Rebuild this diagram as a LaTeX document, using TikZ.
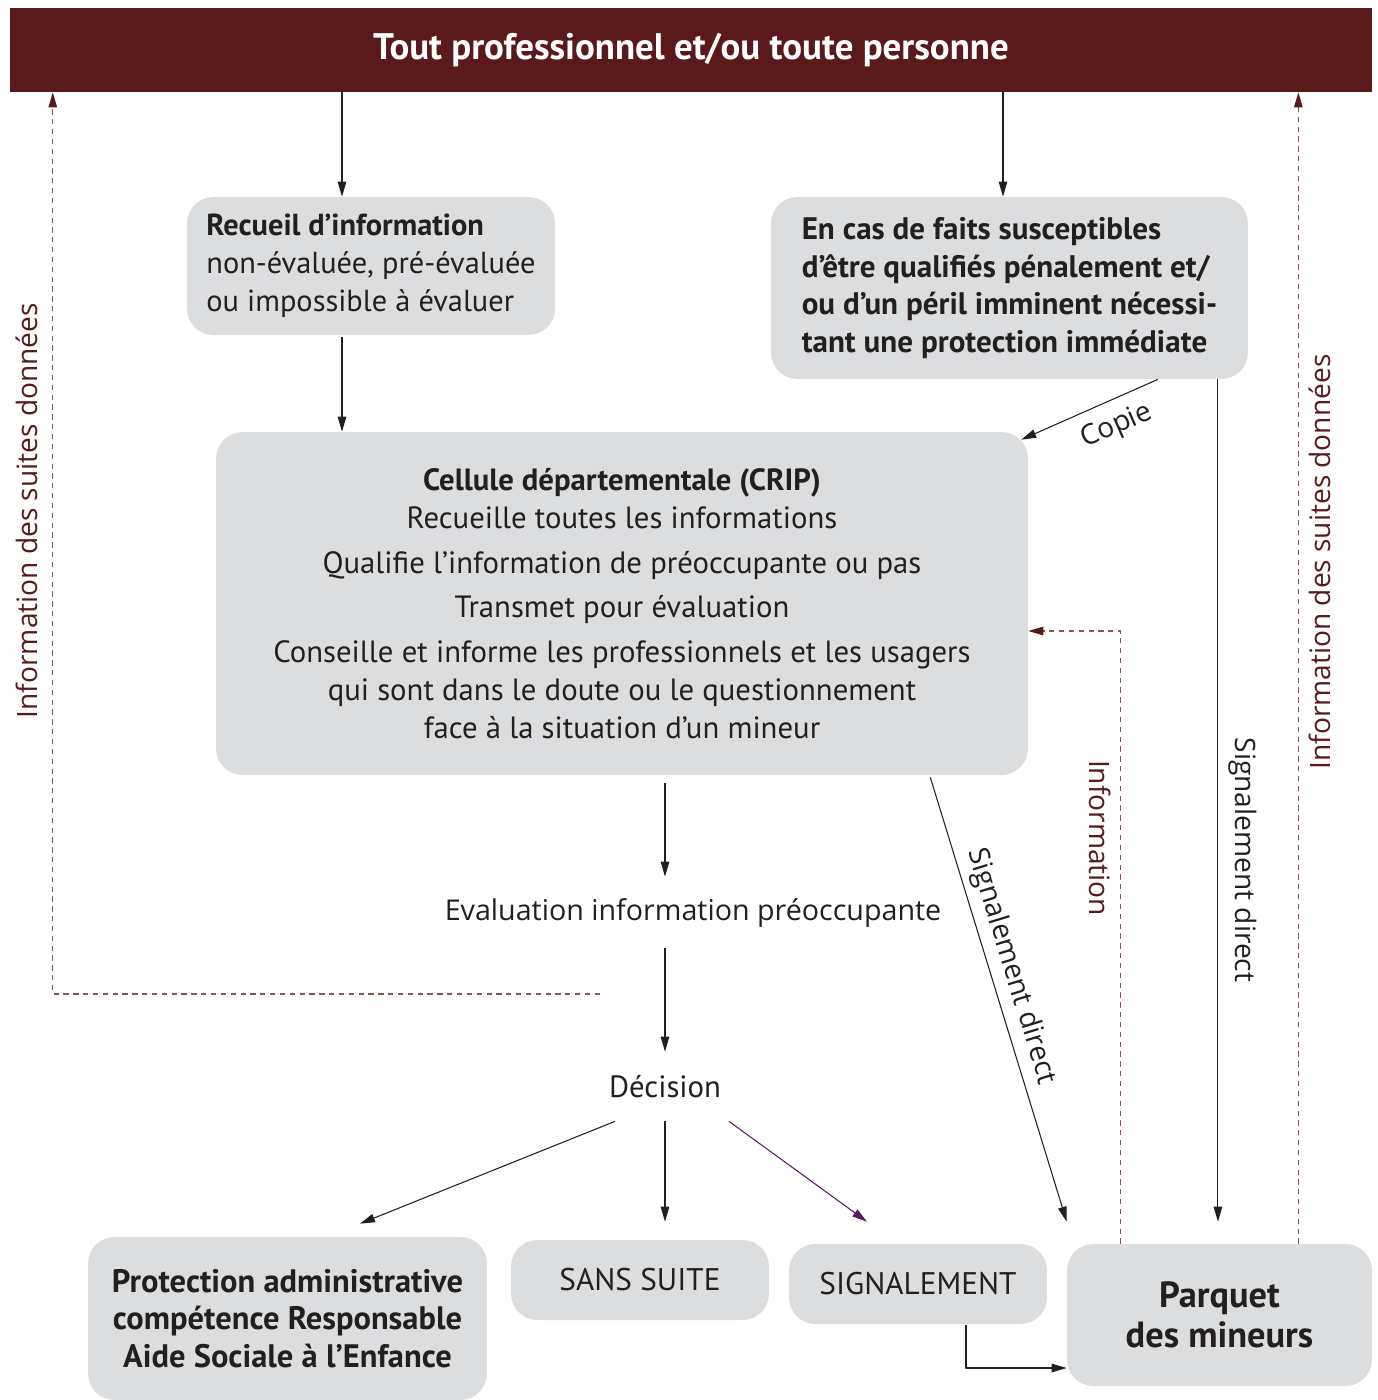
\documentclass[tikz,border=0pt]{standalone}
\usepackage{fontspec}
\setmainfont{PT Sans}
\newfontfamily\opensans{Open Sans}
\usetikzlibrary{arrows.meta,positioning}
\definecolor{bordeaux}{HTML}{5A1A1C}
\definecolor{tiret}{HTML}{8A5555}
\definecolor{gris}{HTML}{DCDDDF}
\definecolor{encre}{HTML}{231F20}
\definecolor{violet}{HTML}{5C1B5E}
\begin{document}
\begin{tikzpicture}[x=0.02cm,y=-0.02cm,>={Triangle[length=3mm,width=1.7mm]},line join=round,
  font=\fontsize{17.5}{21.5}\selectfont,text=encre,
  boite/.style={fill=gris,rounded corners=15pt,inner sep=0pt,align=center},
  lien/.style={->,draw=encre,line width=0.6pt},
  suite/.style={draw=tiret,line width=0.6pt,dash pattern=on 3pt off 2.6pt,-{Triangle[length=3mm,width=1.7mm,color=bordeaux]}},
  etiq/.style={font=\opensans\fontsize{16}{18}\selectfont,inner sep=2pt}]
\useasboundingbox (0,0) rectangle (1378,1400);
\node[fill=bordeaux,minimum width=27.24cm,minimum height=1.68cm,inner sep=0pt,text=white,font=\bfseries\fontsize{21}{24}\selectfont] (tout) at (691,50) {Tout professionnel et/ou toute personne};
\node[boite,minimum width=7.36cm,minimum height=2.76cm,align=left,font=\fontsize{17.3}{21.5}\selectfont] (recueil) at (371,266) {\textbf{Recueil d’information}\\non-évaluée, pré-évaluée\\ou impossible à évaluer};
\node[boite,minimum width=9.54cm,minimum height=3.64cm,align=left,font=\bfseries\fontsize{17.7}{21.5}\selectfont] (encas) at (1009.5,288) {En cas de faits susceptibles\\d’être qualifiés pénalement et/\\ou d’un péril imminent nécessi-\\tant une protection immédiate};
\node[boite,minimum width=16.24cm,minimum height=6.86cm] (crip) at (622,603.5) {\textbf{Cellule départementale (CRIP)}\\Recueille toutes les informations\\[4pt]Qualifie l’information de préoccupante ou pas\\[4pt]Transmet pour évaluation\\[4pt]Conseille et informe les professionnels et les usagers\\qui sont dans le doute ou le questionnement\\face à la situation d’un mineur};
\node[minimum height=1.42cm,inner sep=0pt,font=\opensans\fontsize{16.3}{18}\selectfont] (eval) at (693,912.5) {Evaluation information préoccupante};
\node[minimum height=1.38cm,inner sep=0pt] (dec) at (665,1086.5) {Décision};
\node[boite,minimum width=7.98cm,minimum height=3.26cm,font=\bfseries\fontsize{18.5}{21.5}\selectfont] (prot) at (287.5,1318.5) {Protection administrative\\compétence Responsable\\Aide Sociale à l’Enfance};
\node[boite,minimum width=5.16cm,minimum height=1.6cm,font=\fontsize{17.8}{20}\selectfont] (sans) at (640,1280) {SANS SUITE};
\node[boite,minimum width=5.16cm,minimum height=1.6cm,font=\fontsize{17.8}{20}\selectfont] (sig) at (918,1284) {SIGNALEMENT};
\node[boite,minimum width=6.1cm,minimum height=2.84cm,font=\bfseries\fontsize{20.7}{22.7}\selectfont] (parquet) at (1219.5,1315) {Parquet\\des mineurs};
\coordinate (retour) at (600,994);
\draw[lien] ([xshift=-0.58cm]recueil.north |- tout.south) -- ([xshift=-0.58cm]recueil.north);
\draw[lien] ([xshift=-0.13cm]encas.north |- tout.south) -- ([xshift=-0.13cm]encas.north);
\draw[lien] ([xshift=-0.58cm,yshift=-0.04cm]recueil.south) -- ([xshift=-0.58cm]recueil.south |- crip.north);
\draw[lien,<-] ([xshift=-0.14cm,yshift=-0.16cm]crip.north east) -- node[etiq,sloped,below=5pt,pos=0.62]{Copie} ([xshift=2.97cm]encas.south);
\draw[lien,shorten >=0.44cm] ([xshift=4.17cm]encas.south) -- node[etiq,sloped,above=4pt,pos=0.556]{Signalement direct} ([xshift=4.17cm]encas.south |- parquet.north);
\draw[lien] ([xshift=-1.96cm,yshift=-0.04cm]crip.south east) -- node[etiq,sloped,above=2pt,pos=0.44]{Signalement direct} ([yshift=0.44cm]parquet.north west);
\draw[lien,shorten <=0.16cm] (crip.south -| dec) -- (eval.north -| dec);
\draw[lien] (eval.south -| dec) -- (dec.north);
\draw[lien] ([xshift=-1cm]dec.south) -- ([xshift=1.45cm,yshift=0.26cm]prot.north);
\draw[lien,shorten >=0.36cm] (dec.south) -- (dec.south |- sans.north);
\draw[lien,draw=violet] ([xshift=1.28cm]dec.south) -- ([xshift=-1.02cm,yshift=0.44cm]sig.north);
\draw[lien] ([xshift=0.96cm,yshift=-0.02cm]sig.south) |- ([yshift=-1.06cm]parquet.west);
\draw[suite] (retour) -| node[etiq,text=bordeaux,rotate=90,anchor=south,inner sep=8pt,pos=0.768]{Information des suites données} ([xshift=0.86cm]tout.south west);
\draw[suite] ([xshift=-1.48cm]parquet.north east) -- node[etiq,text=bordeaux,rotate=90,anchor=north,inner sep=6pt,pos=0.592]{Information des suites données} ([xshift=-1.48cm]parquet.north east |- tout.south);
\draw[suite] ([xshift=1.08cm]parquet.north west) |- node[etiq,text=bordeaux,rotate=-90,anchor=north,inner sep=5pt,pos=0.331]{Information} ([yshift=-0.55cm]crip.east);
\end{tikzpicture}
\end{document}
